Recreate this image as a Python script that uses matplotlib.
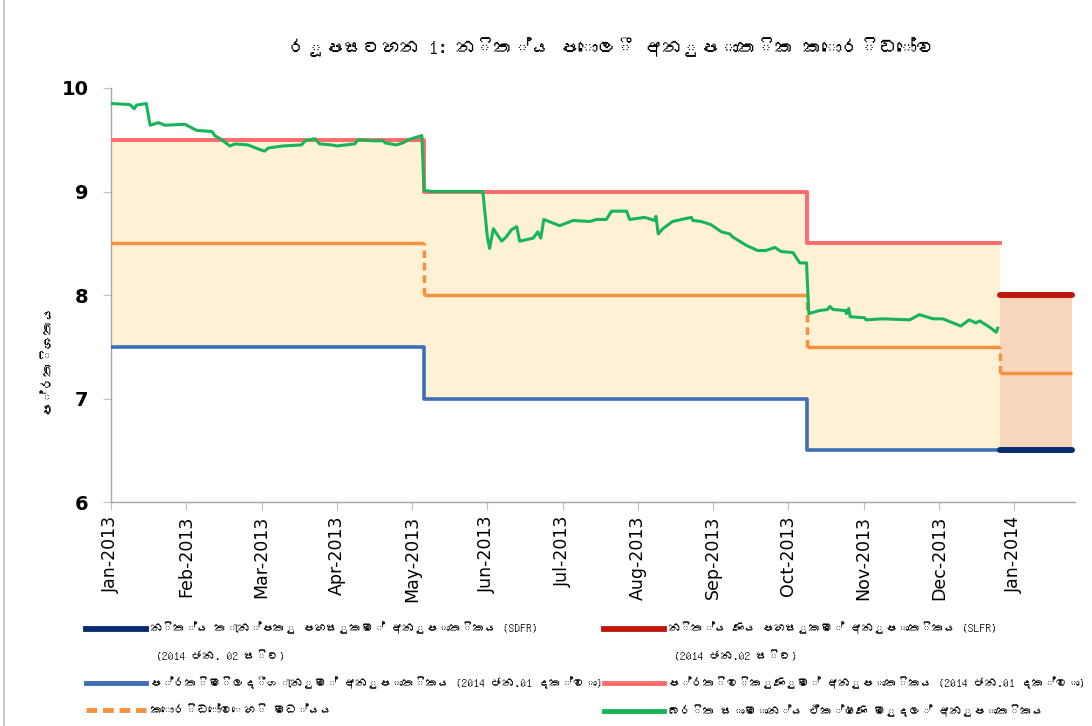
import numpy as np
import matplotlib
matplotlib.use("Agg")
import matplotlib.pyplot as plt
from matplotlib import font_manager
from matplotlib.ft2font import FT2Font
from matplotlib.lines import Line2D

# x axis: months since Jan-2013 (the axis gives every month the same width)
month_labels = ['Jan-2013', 'Feb-2013', 'Mar-2013', 'Apr-2013', 'May-2013', 'Jun-2013',
                'Jul-2013', 'Aug-2013', 'Sep-2013', 'Oct-2013', 'Nov-2013', 'Dec-2013',
                'Jan-2014']

# policy corridor until 01 Jan 2014 (start of each regime, last value = end)
corridor_t = [0.0, 4.155, 9.246, 11.808]
reverse_repo = [9.5, 9.0, 8.5]
repo = [7.5, 7.0, 6.5]
corridor_mid = [8.5, 8.0, 7.5]

# standing facility rates from 02 Jan 2014
new_t = [11.808, 12.77]
slfr = [8.0, 8.0]
sdfr = [6.5, 6.5]
new_mid = [7.25, 7.25]

# weighted average call money rate
call_t = [0.00, 0.25, 0.31, 0.34, 0.47, 0.52, 0.63, 0.72, 0.98, 1.14, 1.34, 1.38, 1.45,
          1.58, 1.65, 1.82, 1.96, 2.04, 2.09, 2.18, 2.29, 2.53, 2.58, 2.71, 2.77, 2.93,
          3.00, 3.24, 3.28, 3.48, 3.62, 3.64, 3.79, 3.88, 3.95, 4.13, 4.16, 4.27, 4.94,
          5.00, 5.03, 5.08, 5.19, 5.25, 5.32, 5.39, 5.43, 5.61, 5.67, 5.71, 5.75, 5.96,
          6.14, 6.36, 6.45, 6.58, 6.65, 6.85, 6.89, 7.09, 7.22, 7.24, 7.27, 7.33, 7.46,
          7.58, 7.71, 7.73, 7.84, 7.97, 8.11, 8.22, 8.26, 8.44, 8.59, 8.70, 8.82, 8.90,
          9.06, 9.15, 9.24, 9.27, 9.41, 9.52, 9.55, 9.59, 9.76, 9.77, 9.80, 9.82, 10.01,
          10.03, 10.25, 10.61, 10.74, 10.92, 11.05, 11.29, 11.40, 11.49, 11.54, 11.67,
          11.76, 11.78]
call_rate = [9.85, 9.84, 9.80, 9.835, 9.85, 9.64, 9.665, 9.64, 9.65, 9.59, 9.58, 9.54, 9.51,
             9.44, 9.46, 9.45, 9.41, 9.39, 9.42, 9.43, 9.44, 9.45, 9.49, 9.51, 9.46, 9.45,
             9.44, 9.46, 9.50, 9.49, 9.49, 9.47, 9.45, 9.47, 9.50, 9.54, 9.01, 9.00, 9.00,
             8.56, 8.45, 8.64, 8.52, 8.56, 8.63, 8.66, 8.52, 8.55, 8.61, 8.55, 8.73, 8.67,
             8.72, 8.71, 8.73, 8.73, 8.81, 8.81, 8.73, 8.75, 8.72, 8.76, 8.59, 8.64, 8.71,
             8.73, 8.75, 8.72, 8.71, 8.68, 8.61, 8.59, 8.56, 8.48, 8.43, 8.43, 8.46, 8.42,
             8.41, 8.31, 8.31, 7.82, 7.85, 7.86, 7.89, 7.86, 7.85, 7.82, 7.87, 7.79, 7.78,
             7.76, 7.77, 7.76, 7.81, 7.77, 7.77, 7.70, 7.76, 7.73, 7.75, 7.69, 7.64, 7.68]

title = 'රූපසටහන 1: නිත්‍ය පොලී අනුපාතික කොරිඩෝව'
ylabel = 'ප්‍රතිශතය'
lbl_sdfr = 'නිත්‍ය තැන්පතු පහසුකම් අනුපාතිකය (SDFR)'
lbl_sdfr2 = ' (2014 ජන. 02 සිට)'
lbl_slfr = 'නිත්‍ය ණය පහසුකම් අනුපාතිකය (SLFR)'
lbl_slfr2 = ' (2014 ජන.02 සිට)'
lbl_repo = 'ප්‍රතිමිලදීගැනුම් අනුපාතිකය (2014 ජන.01 දක්වා)'
lbl_rrepo = 'ප්‍රතිවිකුණුම් අනුපාතිකය (2014 ජන.01 දක්වා)'
lbl_mid = 'කොරිඩෝවෙහි මධ්‍යය'
lbl_call = 'බරිත සාමාන්‍ය ඒක්ෂණ මුදල් අනුපාතිකය'

C_RREPO = '#FF6A6A'
C_REPO = '#3F6EB4'
C_SDFR = '#062B6E'
C_SLFR = '#C0170C'
C_MID = '#F5913F'
C_CALL = '#17B45A'
C_FILL = '#FEF1D6'
C_FILL2 = '#F8D5BD'


def sinhala_font():
    # look for any installed font that has Sinhala glyphs
    for path in font_manager.findSystemFonts():
        try:
            if 0x0DC3 in FT2Font(path).get_charmap():
                font_manager.fontManager.addfont(path)
                return font_manager.FontProperties(fname=path).get_name()
        except Exception:
            continue
    return None


def si_text(s):
    # the font has no glyph for the zero width joiner
    return s.replace('\u200d', '')


si = sinhala_font()
if si:
    plt.rcParams['font.family'] = [si, 'DejaVu Sans']
else:
    plt.rcParams['font.family'] = ['DejaVu Sans']

fig = plt.figure(figsize=(10.92, 7.26), dpi=100)
ax = fig.add_axes([0.1016, 0.3085, 0.8824, 0.5703])

# corridor band
ct = corridor_t
rr_step = reverse_repo + [reverse_repo[-1]]
rp_step = repo + [repo[-1]]
ax.fill_between(ct, rp_step, rr_step, step='post', color=C_FILL, lw=0, zorder=1)
ax.fill_between(new_t, sdfr, slfr, color=C_FILL2, lw=0, zorder=1)

ax.step(ct, rr_step, where='post', color=C_RREPO, lw=2.8, zorder=3)
ax.step(ct, rp_step, where='post', color=C_REPO, lw=2.6, zorder=3)

# corridor mid point: flat parts solid, jumps dashed
ax.hlines(corridor_mid, ct[:-1], ct[1:], color=C_MID, lw=2.5, zorder=3)
ax.hlines(new_mid[0], new_t[0], new_t[1], color=C_MID, lw=2.5, zorder=3)
mids = corridor_mid + [new_mid[0]]
ax.vlines(ct[1:], mids[1:], mids[:-1], color=C_MID, lw=2.5, linestyles=(0, (2.2, 1.4)), zorder=3)

ax.plot(new_t, slfr, color=C_SLFR, lw=4.3, solid_capstyle='round', zorder=4)
ax.plot(new_t, sdfr, color=C_SDFR, lw=4.3, solid_capstyle='round', zorder=4)

ax.plot(call_t, call_rate, color=C_CALL, lw=2.2, zorder=5)

ax.set_xlim(0, 12.8)
ax.set_ylim(6, 10)
ax.set_yticks([6, 7, 8, 9, 10])
ax.set_xticks(np.arange(len(month_labels)))
ax.set_xticklabels(month_labels, rotation=90, fontsize=12.5, family='DejaVu Sans')
for lab in ax.get_yticklabels():
    lab.set_fontweight('bold')
    lab.set_fontsize(14)
    lab.set_family('DejaVu Sans')
ax.tick_params(axis='y', length=6, color='#BFBFBF', pad=10)
ax.tick_params(axis='x', length=6, color='#BFBFBF', pad=4)
for side in ['top', 'right']:
    ax.spines[side].set_visible(False)
for side in ['left', 'bottom']:
    ax.spines[side].set_color('#A6A6A6')
    ax.spines[side].set_linewidth(1.0)

fig.text(0.56, 1 - 47 / 726, si_text(title), ha='center', va='center', fontsize=13.5)
fig.text(47 / 1092, 1 - 358 / 726, si_text(ylabel), rotation=90, ha='center', va='center', fontsize=10)

# chart border on the left
fig.add_artist(Line2D([0.004, 0.004], [0, 1], color='#C8C8C8', lw=1.5, transform=fig.transFigure))

blank = Line2D([], [], color='none')
left_handles = [Line2D([], [], color=C_SDFR, lw=4.2), blank,
                Line2D([], [], color=C_REPO, lw=3.5),
                Line2D([], [], color=C_MID, lw=3.5, ls=(0, (2.2, 1.2)))]
left_labels = [si_text(s) for s in [lbl_sdfr, lbl_sdfr2, lbl_repo, lbl_mid]]
right_handles = [Line2D([], [], color=C_SLFR, lw=4.2), blank,
                 Line2D([], [], color=C_RREPO, lw=3.5),
                 Line2D([], [], color=C_CALL, lw=3.5)]
right_labels = [si_text(s) for s in [lbl_slfr, lbl_slfr2, lbl_rrepo, lbl_call]]

leg_kw = dict(loc='upper left', frameon=False, fontsize=8.5, handlelength=5.1,
              handletextpad=0.3, labelspacing=1.3, borderpad=0, borderaxespad=0)
fig.legend(left_handles, left_labels, bbox_to_anchor=(86 / 1092, 1 - 622 / 726), **leg_kw)
fig.legend(right_handles, right_labels, bbox_to_anchor=(604 / 1092, 1 - 622 / 726), **leg_kw)

fig.savefig('out.png', dpi=100)
